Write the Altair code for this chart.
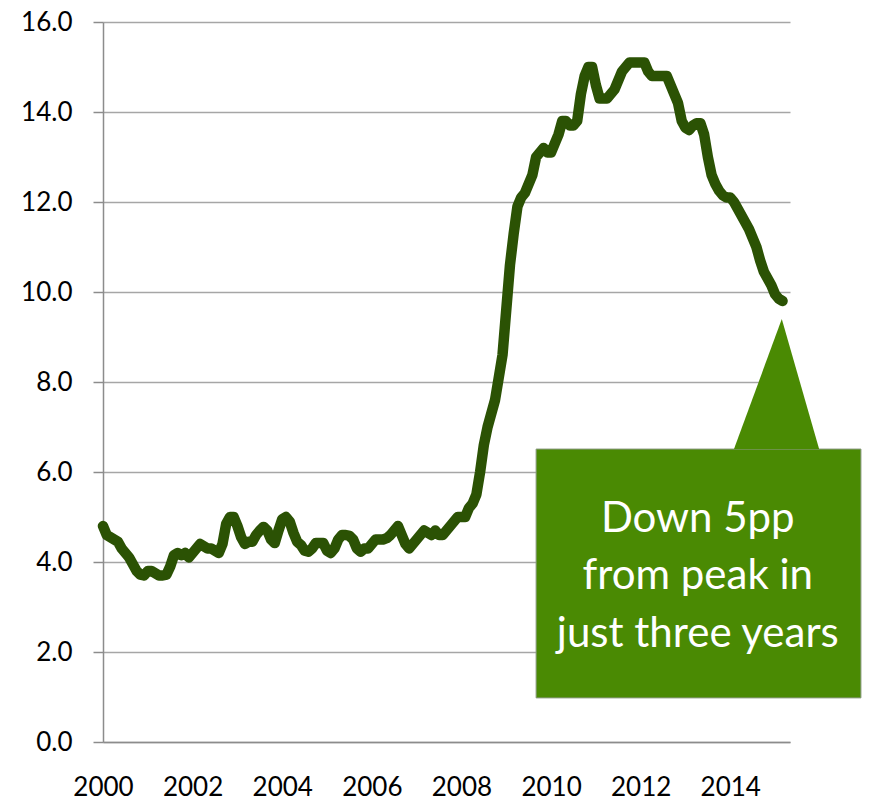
import altair as alt
import pandas as pd

# ---- data (monthly unemployment rate, %, Jan 2000 onward) ----
start_year = 2000
rate = [
    4.8, 4.6, 4.55, 4.5, 4.45, 4.3, 4.2, 4.1, 3.95, 3.8, 3.72, 3.7,      # 2000
    3.8, 3.8, 3.75, 3.7, 3.7, 3.72, 3.9, 4.15, 4.2, 4.15, 4.2, 4.1,      # 2001
    4.2, 4.3, 4.4, 4.35, 4.3, 4.3, 4.25, 4.2, 4.4, 4.85, 5.0, 5.0,       # 2002
    4.8, 4.55, 4.4, 4.45, 4.45, 4.6, 4.7, 4.78, 4.7, 4.5, 4.42, 4.7,     # 2003
    4.95, 5.0, 4.9, 4.65, 4.45, 4.38, 4.25, 4.23, 4.3, 4.42, 4.42, 4.42, # 2004
    4.25, 4.2, 4.3, 4.5, 4.6, 4.6, 4.58, 4.5, 4.3, 4.23, 4.3, 4.3,       # 2005
    4.4, 4.5, 4.5, 4.5, 4.53, 4.6, 4.7, 4.8, 4.6, 4.4, 4.3, 4.4,         # 2006
    4.5, 4.6, 4.7, 4.65, 4.6, 4.7, 4.6, 4.6, 4.7, 4.8, 4.9, 5.0,         # 2007
    5.0, 5.0, 5.2, 5.3, 5.5, 6.0, 6.6, 7.0, 7.3, 7.6, 8.1, 8.6,          # 2008
    9.6, 10.6, 11.3, 11.9, 12.1, 12.2, 12.4, 12.6, 13.0, 13.1, 13.2, 13.1,  # 2009
    13.1, 13.3, 13.5, 13.8, 13.8, 13.7, 13.7, 13.8, 14.4, 14.8, 15.0, 15.0, # 2010
    14.6, 14.3, 14.3, 14.3, 14.4, 14.5, 14.7, 14.9, 15.0, 15.1, 15.1, 15.1, # 2011
    15.1, 15.1, 14.9, 14.8, 14.8, 14.8, 14.8, 14.8, 14.6, 14.4, 14.2, 13.8, # 2012
    13.65, 13.6, 13.7, 13.75, 13.75, 13.5, 13.0, 12.6, 12.4, 12.25, 12.15, 12.1, # 2013
    12.1, 12.0, 11.85, 11.7, 11.55, 11.4, 11.2, 11.0, 10.7, 10.45, 10.3, 10.15, # 2014
    9.95, 9.85, 9.8,                                                      # 2015
]
x_tick_years = [2000, 2002, 2004, 2006, 2008, 2010, 2012, 2014]
y_ticks = [0, 2, 4, 6, 8, 10, 12, 14, 16]
callout_lines = ["Down 5pp", "from peak in", "just three years"]

# callout geometry, in data units (months since start, percent)
box = {"x": 116, "x2": 203, "y": 0.98, "y2": 6.51}
pointer_x = [169, 181.8, 191.8]
pointer_top = [6.51, 9.4, 6.51]
text_x = 159.3
text_y = [4.67, 3.39, 2.11]

series = pd.DataFrame({"m": list(range(len(rate))), "rate": rate})
box_df = pd.DataFrame([box])
pointer_df = pd.DataFrame({"m": pointer_x, "top": pointer_top, "base": [box["y2"]] * 3})
text_df = pd.DataFrame({"m": [text_x] * 3, "y": text_y, "t": callout_lines})

FONT = "Lato"
x_scale = alt.Scale(domain=[0, 184], nice=False, zero=False)
y_scale = alt.Scale(domain=[0, 16], nice=False)

x_axis = alt.Axis(
    values=[(y - start_year) * 12 for y in x_tick_years],
    labelExpr=f"'' + ({start_year} + datum.value / 12)",
    ticks=False, grid=False, domain=True, domainColor="#8c8c8c", domainWidth=1.5,
    labelPadding=32, labelFontSize=26, labelColor="#000000", labelFont=FONT,
    labelOverlap=False, labelFlush=False, labelBound=False, title=None,
)
y_axis = alt.Axis(
    values=y_ticks, format=".1f",
    ticks=True, tickSize=10, tickColor="#8c8c8c", tickWidth=1.5,
    grid=True, gridColor="#a6a6a6", gridWidth=1.5,
    domain=True, domainColor="#8c8c8c", domainWidth=1.5,
    labelPadding=21, labelFontSize=26, labelColor="#000000", labelFont=FONT,
    title=None,
)

line = alt.Chart(series).mark_line(
    color="#2b5204", strokeWidth=10.5, strokeCap="round", strokeJoin="round"
).encode(
    x=alt.X("m:Q", scale=x_scale, axis=x_axis),
    y=alt.Y("rate:Q", scale=y_scale, axis=y_axis),
)

rect = alt.Chart(box_df).mark_rect(
    color="#4a8a03", stroke="#8a9a80", strokeWidth=1
).encode(
    x=alt.X("x:Q", scale=x_scale),
    x2="x2:Q",
    y=alt.Y("y:Q", scale=y_scale),
    y2="y2:Q",
)

pointer = alt.Chart(pointer_df).mark_area(color="#4a8a03", opacity=1).encode(
    x=alt.X("m:Q", scale=x_scale),
    y=alt.Y("top:Q", scale=y_scale),
    y2="base:Q",
)

text = alt.Chart(text_df).mark_text(
    color="#ffffff", font=FONT, fontSize=42, align="center", baseline="alphabetic"
).encode(
    x=alt.X("m:Q", scale=x_scale),
    y=alt.Y("y:Q", scale=y_scale),
    text="t:N",
)

chart = alt.layer(rect, pointer, line, text).properties(
    width=687, height=720,
    autosize=alt.AutoSizeParams(type="none"),
    padding={"left": 95, "top": 14, "right": 75, "bottom": 58},
).configure_view(strokeWidth=0)

chart.save("out.html", embed_options={"renderer": "svg", "actions": False})
